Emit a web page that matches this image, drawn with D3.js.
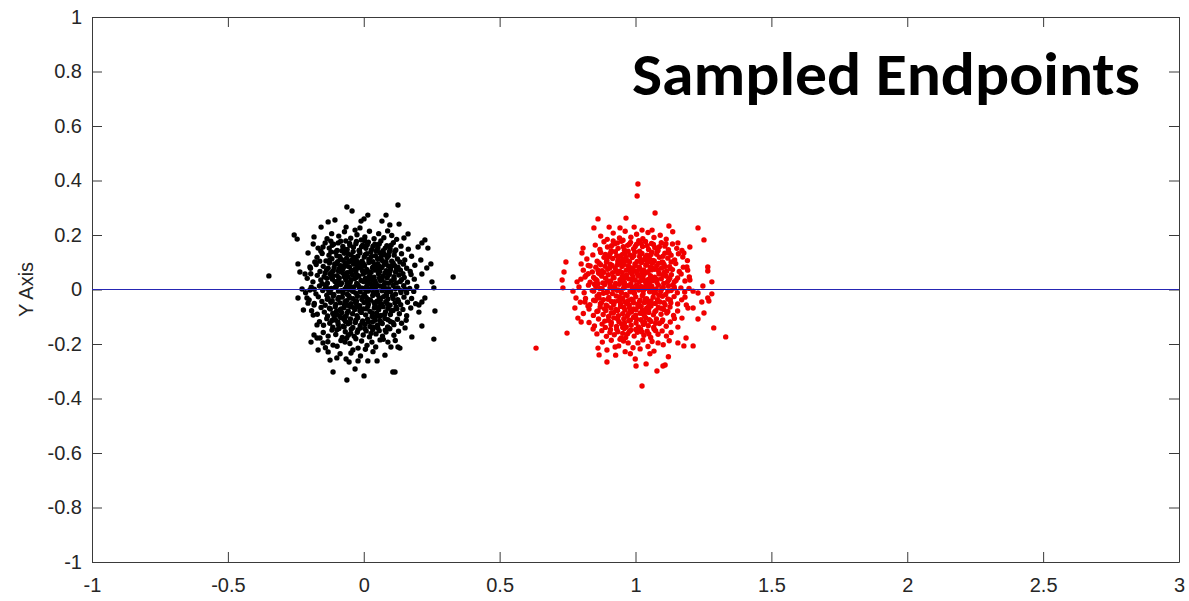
<!DOCTYPE html>
<html>
<head>
<meta charset="utf-8">
<script src="https://cdn.jsdelivr.net/npm/d3@7"></script>
<style>
	html, body { margin: 0; padding: 0; background: #fff; }
	svg { display: block; }
</style>
</head>
<body>
<div id="plot"></div>
<script>
	'use strict';

	var xTicks = [-1, -0.5, 0, 0.5, 1, 1.5, 2, 2.5, 3];
	var yTicks = [-1, -0.8, -0.6, -0.4, -0.2, 0, 0.2, 0.4, 0.6, 0.8, 1];
	var xDomain = [-1, 3];
	var yDomain = [-1, 1];
	var titleText = 'Sampled Endpoints';
	var yLabel = 'Y Axis';

	// reference line y = 0
	var zeroLine = [[-1, 0], [3, 0]];

	// endpoints sampled around the start (0, 0)
	var startPoints = [
		[-.349,.050],[-.256,.200],[-.245,.185],[-.157,.229],[-.183,.193],[-.186,.167],[-.205,.134],[-.242,.094],[-.235,.064],[-.216,.057],[-.198,.083],[-.180,.101],[-.242,-.031],[-.209,-.031],[-.198,-.002],[-.227,.002],[-.205,-.050],[-.222,-.075],[-.183,-.057],[-.186,-.094],[-.172,-.130],[-.183,-.167],[-.194,-.193],[-.172,-.178],[-.161,-.178],[-.168,-.222],[-.150,-.196],[-.150,.156],[-.168,.152],
		[-.062,.303],[-.043,.288],[-.131,.248],[-.106,.255],[.015,.273],[.001,.259],[-.010,.251],[.082,.273],[.067,.251],[.096,.237],[-.065,.229],[-.032,.218],[-.014,.226],
		[-.124,-.259],[-.099,-.251],[-.065,-.255],[-.054,-.266],[-.021,-.262],[.015,-.262],[.049,-.262],[-.113,-.303],[-.032,-.292],[-.062,-.332],[.001,-.317],[.107,-.303],
		[-.113,-.204],[-.069,-.193],[-.040,-.222],[-.021,-.215],[.030,-.193],[.060,-.185],[.089,-.193],[.100,-.211],
		[.126,.310],[.130,.240],[.163,.204],[.148,.189],[.225,.182],[.214,.171],[.200,.156],[.236,.152],[.210,.108],[.247,.094],[.232,.079],[.214,.057],[.329,.046],[.251,.028],[.258,.006],[.225,-.031],[.214,-.046],[.203,-.057],[.262,-.079],[.203,-.083],[.214,-.134],[.177,-.174],[.258,-.182],[.152,-.141],[.126,-.211],[.133,-.215],[.115,-.303],
		[-.118,.205],[-.092,.196],[-.071,.212],[-.048,.188],[-.025,.201],[.004,.193],[.021,.214],[.038,.186],[.055,.205],[.074,.190],[.103,.198],[.121,.184],[-.135,.186],[-.009,.182],[.088,.215],
		[-.142,.171],[-.127,.152],[-.111,.166],[-.098,.143],[-.085,.177],[-.077,.158],[-.061,.147],[-.052,.169],[-.038,.155],[-.027,.176],[-.016,.144],[-.004,.163],[.008,.151],[.017,.174],[.029,.146],[.041,.166],[.052,.153],[.063,.178],[.071,.142],[.085,.161],[.097,.149],[.109,.172],[.118,.145],[.137,.159],[.164,.148],[-.158,.141],[-.066,.178],[.003,.179],[.046,.141],[-.121,.177],
		[-.172,.118],[-.153,.132],[-.139,.105],[-.128,.126],[-.117,.113],[-.104,.137],[-.096,.102],[-.088,.121],[-.079,.108],[-.071,.133],[-.063,.115],[-.055,.101],[-.047,.127],[-.039,.139],[-.031,.108],[-.022,.122],[-.014,.134],[-.006,.104],[.002,.119],[.011,.131],[.019,.111],[.026,.138],[.034,.102],[.043,.124],[.051,.113],[.059,.135],[.068,.106],[.077,.128],[.086,.117],[.094,.138],[.103,.104],[.112,.126],[.124,.112],[.139,.131],[.151,.108],[.176,.122],[-.162,.104],[.133,.101],[-.049,.104],[.064,.121],
		[-.196,.078],[-.175,.092],[-.161,.066],[-.149,.085],[-.137,.072],[-.126,.097],[-.118,.063],[-.109,.081],[-.101,.094],[-.093,.068],[-.085,.087],[-.077,.074],[-.069,.098],[-.061,.062],[-.053,.083],[-.045,.071],[-.037,.093],[-.029,.065],[-.021,.079],[-.013,.096],[-.005,.069],[.003,.088],[.011,.074],[.019,.099],[.027,.063],[.035,.084],[.043,.071],[.051,.095],[.059,.066],[.067,.081],[.075,.092],[.083,.069],[.091,.086],[.099,.075],[.108,.097],[.117,.064],[.126,.082],[.135,.071],[.146,.093],[.158,.078],[.171,.066],[.188,.089],[-.142,.061],[-.083,.064],[.007,.063],[.052,.078],[.113,.088],[-.025,.091],
		[-.208,.041],[-.187,.028],[-.171,.052],[-.158,.035],[-.146,.047],[-.134,.023],[-.124,.056],[-.115,.038],[-.106,.029],[-.098,.051],[-.090,.042],[-.082,.024],[-.074,.058],[-.066,.036],[-.058,.047],[-.050,.027],[-.042,.054],[-.034,.039],[-.026,.022],[-.018,.049],[-.010,.033],[-.002,.057],[.006,.041],[.014,.026],[.022,.052],[.030,.037],[.038,.045],[.046,.021],[.054,.058],[.062,.033],[.070,.049],[.078,.025],[.086,.043],[.094,.056],[.102,.031],[.111,.047],[.120,.024],[.129,.053],[.139,.036],[.149,.044],[.161,.027],[.174,.055],[.186,.038],[-.195,.058],[-.153,.021],[-.061,.023],[.017,.034],[.091,.023],[.144,.058],[-.118,.043],[-.028,.044],[.058,.042],
		[-.214,-.012],[-.193,.008],[-.176,-.016],[-.163,.013],[-.151,-.004],[-.139,.017],[-.128,-.009],[-.119,.004],[-.110,-.018],[-.101,.011],[-.093,-.006],[-.085,.018],[-.077,-.013],[-.069,.002],[-.061,-.017],[-.053,.014],[-.045,-.003],[-.037,.009],[-.029,-.014],[-.021,.016],[-.013,-.008],[-.005,.005],[.003,-.016],[.011,.012],[.019,-.002],[.027,.019],[.035,-.011],[.043,.007],[.051,-.019],[.059,.013],[.067,-.005],[.075,.017],[.083,-.014],[.091,.003],[.099,-.008],[.108,.015],[.117,-.017],[.126,.006],[.136,-.004],[.147,.014],[.158,-.012],[.169,.004],[.184,-.007],[.195,.011],[-.182,.001],[-.132,.003],[-.057,.001],[.015,-.006],[.078,.004],[.152,.001],[-.097,.019],[.039,.018],
		[-.201,-.038],[-.182,-.051],[-.167,-.027],[-.154,-.044],[-.142,-.058],[-.131,-.033],[-.121,-.047],[-.112,-.024],[-.103,-.055],[-.095,-.036],[-.087,-.049],[-.079,-.028],[-.071,-.057],[-.063,-.041],[-.055,-.023],[-.047,-.052],[-.039,-.034],[-.031,-.046],[-.023,-.025],[-.015,-.059],[-.007,-.037],[.001,-.048],[.009,-.029],[.017,-.054],[.025,-.039],[.033,-.022],[.041,-.057],[.049,-.043],[.057,-.031],[.065,-.053],[.073,-.026],[.081,-.045],[.089,-.035],[.097,-.058],[.106,-.024],[.115,-.049],[.125,-.037],[.136,-.056],[.148,-.028],[.161,-.047],[.176,-.033],[.191,-.052],[-.136,-.021],[-.061,-.058],[.012,-.043],[.084,-.021],[-.027,-.042],[.053,-.047],
		[-.192,-.078],[-.171,-.091],[-.157,-.066],[-.145,-.083],[-.133,-.097],[-.123,-.072],[-.114,-.088],[-.105,-.063],[-.097,-.094],[-.089,-.076],[-.081,-.085],[-.073,-.067],[-.065,-.098],[-.057,-.079],[-.049,-.062],[-.041,-.089],[-.033,-.073],[-.025,-.096],[-.017,-.065],[-.009,-.084],[-.001,-.071],[.007,-.093],[.015,-.062],[.023,-.081],[.031,-.099],[.039,-.068],[.047,-.087],[.055,-.074],[.063,-.095],[.071,-.063],[.080,-.082],[.089,-.069],[.098,-.092],[.108,-.077],[.119,-.064],[.131,-.089],[.144,-.073],[.158,-.096],[.173,-.068],[-.109,-.099],[-.023,-.061],[.052,-.097],
		[-.163,-.118],[-.148,-.131],[-.136,-.107],[-.125,-.124],[-.114,-.138],[-.104,-.112],[-.094,-.128],[-.085,-.103],[-.076,-.135],[-.067,-.117],[-.058,-.126],[-.049,-.108],[-.040,-.139],[-.031,-.121],[-.022,-.104],[-.013,-.132],[-.004,-.115],[.005,-.127],[.014,-.109],[.023,-.136],[.032,-.119],[.041,-.102],[.050,-.131],[.059,-.114],[.068,-.125],[.078,-.106],[.088,-.137],[.099,-.118],[.111,-.129],[.124,-.109],[.139,-.124],[.156,-.113],[-.071,-.102],[.036,-.139],
		[-.149,-.158],[-.131,-.171],[-.117,-.149],[-.103,-.165],[-.091,-.143],[-.079,-.176],[-.068,-.155],[-.057,-.168],[-.046,-.146],[-.035,-.172],[-.024,-.157],[-.013,-.141],[-.002,-.167],[.009,-.152],[.021,-.174],[.033,-.148],[.045,-.163],[.057,-.151],[.069,-.171],[.082,-.156],[.096,-.144],[.111,-.168],[.128,-.153],[-.063,-.179],
		[-.132,-.192],[-.098,-.208],[-.084,-.187],[-.051,-.198],[-.008,-.189],[.012,-.205],[.044,-.211],[.072,-.183],[.116,-.187],[-.141,-.214],[.006,-.219],[-.029,-.181],
		[-.087,-.236],[-.012,-.244],[.034,-.228],[-.131,-.229],[.078,-.241],[-.047,-.233],
		[-.116,.162],[-.094,.171],[-.073,.149],[-.051,.162],[-.029,.168],[-.008,.157],[.013,.164],[.034,.159],[.057,.167],[.079,.152],[.101,.163],
		[-.121,.138],[-.099,.124],[-.081,.142],[-.058,.131],[-.036,.118],[-.017,.142],[.006,.128],[.028,.121],[.049,.146],[.072,.134],[.091,.124],[.114,.139],
		[-.125,.108],[-.107,.094],[-.086,.112],[-.064,.087],[-.043,.109],[-.024,.103],[-.002,.096],[.021,.107],[.041,.089],[.063,.111],[.082,.101],[.104,.087],
		[-.131,.078],[-.112,.069],[-.091,.076],[-.072,.084],[-.049,.064],[-.031,.075],[-.009,.082],[.014,.067],[.032,.079],[.055,.087],[.078,.061],[.097,.068],[.121,.075],
		[-.136,.041],[-.113,.051],[-.094,.033],[-.071,.046],[-.047,.036],[-.023,.052],[-.001,.029],[.019,.046],[.042,.031],[.067,.038],[.089,.051],[.112,.039],[.134,.029],
		[-.141,.006],[-.123,-.011],[-.104,.008],[-.082,-.004],[-.063,.011],[-.039,-.007],[-.017,.009],[.007,-.001],[.029,.006],[.048,-.009],[.071,.009],[.093,-.002],[.116,.003],[.137,-.011],
		[-.134,-.036],[-.116,-.041],[-.092,-.029],[-.069,-.045],[-.051,-.031],[-.028,-.051],[-.004,-.026],[.019,-.037],[.038,-.048],[.061,-.038],[.086,-.051],[.108,-.033],[.128,-.045],
		[-.126,-.069],[-.101,-.081],[-.084,-.071],[-.061,-.086],[-.037,-.067],[-.014,-.078],[.009,-.071],[.031,-.086],[.056,-.065],[.077,-.091],[.101,-.078],[.122,-.071],
		[-.117,-.114],[-.095,-.119],[-.073,-.109],[-.051,-.122],[-.029,-.113],[-.006,-.121],[.017,-.118],[.041,-.113],[.064,-.121],[.089,-.111],[.108,-.122],
		[-.099,-.148],[-.072,-.138],[-.048,-.161],[-.021,-.148],[.004,-.143],[.027,-.161],[.052,-.141],[.079,-.149]
	];

	// endpoints sampled around the goal (1, 0)
	var endPoints = [
		[.634,-.215],[.748,-.160],[.744,.101],[.737,.064],[.730,.035],[.733,.006],[.770,-.006],[.781,-.031],[.777,-.068],[.788,-.105],[.800,-.119],[.847,.226],[.807,.152],[.800,.094],[.785,.028],[.814,-.046],[.825,-.061],[.844,-.145],[.803,.134],[.833,.086],[.814,.046],
		[1.009,.387],[1.006,.343],[1.072,.281],[.862,.259],[.965,.262],[.903,.229],[.943,.226],[.995,.229],[1.024,.218],[1.061,.218],
		[.862,-.215],[.895,-.222],[.866,-.240],[.895,-.266],[.999,-.255],[1.002,-.281],[1.039,-.273],[1.079,-.299],[1.101,-.281],[1.024,-.354],[.973,-.196],[1.009,-.196],[1.083,-.196],[.925,-.211],
		[1.123,.233],[1.230,.226],[1.252,.182],[1.156,.171],[1.200,.156],[1.266,.083],[1.266,.068],[1.281,.028],[1.248,.013],[1.266,-.031],[1.270,-.042],[1.244,-.046],[1.281,-.016],[1.252,-.086],[1.230,-.108],[1.288,-.141],[1.332,-.174],[1.212,-.068],[1.186,-.178],[1.212,-.207],[1.178,-.207],[1.156,-.196],[1.109,-.277],[1.189,.083],[1.178,.134],[1.200,.035],[1.212,-.006],[1.230,-.013],[1.182,-.028],[1.193,-.068],[1.171,-.105],[1.156,-.138],
		[.872,.196],[.896,.184],[.918,.207],[.941,.189],[.962,.214],[.983,.192],[1.004,.203],[1.027,.186],[1.046,.209],[1.068,.191],[1.091,.199],[1.113,.185],[1.137,.212],[.954,.181],
		[.852,.163],[.869,.147],[.884,.175],[.897,.156],[.911,.142],[.924,.168],[.936,.151],[.948,.177],[.959,.145],[.971,.162],[.982,.173],[.993,.149],[1.004,.166],[1.015,.141],[1.026,.158],[1.037,.176],[1.048,.147],[1.059,.169],[1.071,.154],[1.083,.143],[1.095,.172],[1.108,.159],[1.121,.146],[1.136,.167],[1.152,.151],[1.171,.143],[.918,.178],[1.012,.179],
		[.821,.112],[.843,.127],[.859,.104],[.872,.136],[.884,.118],[.895,.107],[.906,.131],[.916,.114],[.926,.139],[.935,.102],[.944,.123],[.953,.111],[.962,.134],[.971,.106],[.979,.127],[.988,.117],[.997,.138],[1.006,.103],[1.015,.121],[1.024,.132],[1.033,.109],[1.042,.126],[1.051,.114],[1.060,.137],[1.069,.105],[1.078,.129],[1.088,.118],[1.098,.101],[1.108,.133],[1.119,.115],[1.131,.126],[1.144,.108],[1.158,.131],[1.174,.119],[1.191,.106],[.965,.118],[1.047,.102],[.901,.121],
		[.808,.071],[.826,.088],[.841,.064],[.854,.082],[.866,.097],[.877,.069],[.888,.085],[.898,.074],[.907,.093],[.916,.062],[.925,.079],[.934,.091],[.942,.067],[.950,.084],[.958,.098],[.966,.071],[.974,.087],[.982,.063],[.990,.078],[.998,.094],[1.006,.068],[1.014,.083],[1.022,.099],[1.030,.072],[1.038,.089],[1.046,.065],[1.054,.081],[1.062,.096],[1.070,.074],[1.078,.087],[1.087,.061],[1.096,.079],[1.105,.092],[1.115,.067],[1.125,.084],[1.136,.073],[1.148,.095],[1.161,.066],[1.176,.082],[1.192,.071],[.864,.061],[.945,.099],[1.025,.061],[1.101,.099],[.979,.081],[1.058,.072],
		[.799,.038],[.818,.052],[.833,.027],[.846,.044],[.858,.033],[.869,.057],[.880,.024],[.890,.041],[.900,.054],[.909,.031],[.918,.046],[.927,.022],[.935,.059],[.943,.036],[.951,.048],[.959,.026],[.967,.053],[.975,.039],[.983,.021],[.991,.047],[.999,.034],[1.007,.058],[1.015,.029],[1.023,.043],[1.031,.055],[1.039,.023],[1.047,.037],[1.055,.051],[1.063,.032],[1.071,.045],[1.079,.026],[1.087,.057],[1.095,.039],[1.104,.022],[1.113,.049],[1.122,.035],[1.132,.054],[1.143,.028],[1.155,.042],[1.168,.057],[1.182,.031],[1.198,.046],[.826,.058],[.906,.021],[.987,.057],[1.051,.024],[1.118,.028],[.862,.021],[.955,.041],[1.028,.041],
		[.792,.009],[.811,-.012],[.827,.016],[.841,-.004],[.854,.011],[.866,-.017],[.877,.003],[.887,.018],[.897,-.009],[.906,.007],[.915,-.015],[.924,.013],[.932,-.003],[.940,.019],[.948,-.011],[.956,.005],[.964,-.018],[.972,.014],[.980,-.006],[.988,.009],[.996,-.014],[1.004,.017],[1.012,-.002],[1.020,.011],[1.028,-.016],[1.036,.004],[1.044,.019],[1.052,-.008],[1.060,.012],[1.068,-.013],[1.076,.002],[1.084,.016],[1.093,-.007],[1.102,.008],[1.111,-.018],[1.121,.013],[1.131,-.004],[1.142,.010],[1.154,-.012],[1.167,.006],[1.181,-.009],[1.197,.004],[.849,.019],[.918,.001],[.993,.001],[1.064,.001],[1.137,.017],[.882,-.014],[.959,.016],[1.031,.009],
		[.797,-.047],[.816,-.033],[.832,-.056],[.846,-.039],[.859,-.025],[.871,-.052],[.882,-.037],[.892,-.058],[.902,-.029],[.911,-.044],[.920,-.055],[.929,-.024],[.937,-.041],[.945,-.053],[.953,-.031],[.961,-.046],[.969,-.022],[.977,-.057],[.985,-.036],[.993,-.049],[1.001,-.027],[1.009,-.054],[1.017,-.039],[1.025,-.023],[1.033,-.048],[1.041,-.034],[1.049,-.059],[1.057,-.042],[1.065,-.028],[1.073,-.051],[1.081,-.037],[1.090,-.046],[1.099,-.025],[1.109,-.057],[1.119,-.035],[1.130,-.049],[1.142,-.026],[1.155,-.053],[1.170,-.038],[1.187,-.057],[.866,-.031],[.941,-.027],[1.013,-.058],[1.086,-.021],[.973,-.041],[1.047,-.045],
		[.808,-.088],[.829,-.072],[.845,-.095],[.858,-.081],[.870,-.064],[.881,-.092],[.891,-.077],[.901,-.099],[.910,-.068],[.919,-.085],[.928,-.073],[.937,-.096],[.945,-.062],[.953,-.089],[.961,-.075],[.969,-.098],[.977,-.066],[.985,-.083],[.993,-.071],[1.001,-.094],[1.009,-.063],[1.017,-.087],[1.025,-.076],[1.033,-.097],[1.041,-.069],[1.049,-.084],[1.057,-.061],[1.066,-.093],[1.075,-.078],[1.084,-.066],[1.094,-.091],[1.104,-.073],[1.115,-.086],[1.127,-.064],[1.140,-.095],[1.155,-.079],[.896,-.061],[.973,-.091],[1.038,-.082],[1.021,-.062],
		[.829,-.121],[.849,-.134],[.864,-.108],[.877,-.127],[.889,-.139],[.900,-.113],[.910,-.129],[.920,-.104],[.930,-.136],[.939,-.118],[.948,-.126],[.957,-.107],[.966,-.138],[.975,-.115],[.984,-.131],[.993,-.102],[1.002,-.123],[1.011,-.137],[1.020,-.111],[1.029,-.128],[1.038,-.104],[1.047,-.133],[1.057,-.117],[1.067,-.139],[1.077,-.108],[1.088,-.125],[1.100,-.112],[1.113,-.135],[1.128,-.119],[1.143,-.106],[.953,-.139],[1.034,-.121],
		[.858,-.163],[.876,-.151],[.893,-.172],[.908,-.147],[.922,-.166],[.935,-.155],[.947,-.178],[.959,-.143],[.971,-.162],[.983,-.149],[.995,-.171],[1.007,-.157],[1.019,-.145],[1.031,-.168],[1.043,-.153],[1.056,-.176],[1.069,-.146],[1.083,-.164],[1.098,-.152],[1.114,-.171],[1.131,-.158],[.964,-.176],
		[.878,-.193],[.911,-.186],[.938,-.207],[.956,-.189],[.991,-.214],[1.027,-.185],[1.046,-.209],[1.061,-.191],[1.102,-.203],[1.124,-.188],[.943,-.183],[1.017,-.218],
		[.927,-.241],[.962,-.228],[1.053,-.236],[1.121,-.247],[.981,-.236],[1.068,-.226],
		[.912,.161],[.933,.171],[.955,.157],[.977,.166],[.999,.158],[1.021,.169],[1.043,.161],[1.066,.165],[1.088,.157],[1.112,.168],
		[.889,.129],[.911,.138],[.931,.124],[.952,.129],[.973,.141],[.994,.124],[1.016,.134],[1.037,.119],[1.057,.128],[1.079,.139],[1.101,.122],[1.124,.134],
		[.872,.091],[.893,.101],[.914,.088],[.936,.108],[.957,.091],[.978,.102],[.999,.087],[1.021,.109],[1.042,.094],[1.064,.107],[1.085,.096],[1.109,.084],[1.131,.101],
		[.862,.071],[.884,.063],[.905,.079],[.929,.069],[.951,.062],[.972,.073],[.994,.067],[1.017,.074],[1.039,.062],[1.061,.079],[1.083,.071],[1.107,.064],[1.129,.077],
		[.853,.038],[.876,.049],[.897,.031],[.921,.043],[.944,.027],[.966,.044],[.988,.036],[1.011,.049],[1.033,.031],[1.057,.043],[1.079,.037],[1.101,.052],[1.126,.041],[1.149,.033],
		[.846,-.006],[.869,.004],[.893,-.011],[.916,.008],[.938,-.002],[.961,.011],[.983,-.008],[1.006,.006],[1.029,-.004],[1.051,.009],[1.073,-.011],[1.097,.003],[1.119,-.006],[1.143,.005],
		[.852,-.041],[.875,-.048],[.899,-.036],[.923,-.045],[.946,-.038],[.968,-.051],[.991,-.039],[1.014,-.046],[1.036,-.036],[1.059,-.052],[1.082,-.041],[1.105,-.048],[1.128,-.038],
		[.862,-.079],[.886,-.071],[.911,-.086],[.934,-.077],[.957,-.066],[.979,-.082],[1.002,-.074],[1.026,-.088],[1.049,-.071],[1.071,-.082],[1.094,-.069],[1.119,-.081],
		[.887,-.116],[.911,-.121],[.934,-.108],[.959,-.124],[.981,-.113],[1.004,-.109],[1.027,-.119],[1.051,-.111],[1.074,-.124],[1.097,-.118],
		[.906,-.158],[.931,-.146],[.953,-.161],[.978,-.153],[1.001,-.147],[1.024,-.156],[1.049,-.163],[1.074,-.151]
	];

	var width = 1189,
		height = 601;
	var margin = {top: 17, right: 10, bottom: 39, left: 92};
	var axisColor = '#3a3a3a',
		textColor = '#262626';
	var dotRadius = 2.7;

	var svg = d3.select('#plot')
		.append('svg')
		.attr('width', width)
		.attr('height', height);

	var x = d3.scaleLinear()
		.domain(xDomain)
		.range([margin.left, width - margin.right]);
	var y = d3.scaleLinear()
		.domain(yDomain)
		.range([height - margin.bottom, margin.top]);

	function styleAxis(g) {
		g.select('.domain').attr('stroke', axisColor).attr('stroke-width', 1);
		g.selectAll('.tick line').attr('stroke', axisColor).attr('stroke-width', 1);
		g.selectAll('.tick text')
			.attr('fill', textColor)
			.style('font-family', '"Liberation Sans", Arial, Helvetica, sans-serif')
			.style('font-size', '20px');
	}

	// bottom / left axes carry labels, top / right only ticks (box on)
	svg.append('g')
		.attr('transform', 'translate(0,' + (height - margin.bottom) + ')')
		.call(d3.axisBottom(x).tickValues(xTicks).tickFormat(String)
			.tickSizeInner(-10).tickSizeOuter(0).tickPadding(16))
		.call(styleAxis);
	svg.append('g')
		.attr('transform', 'translate(' + margin.left + ',0)')
		.call(d3.axisLeft(y).tickValues(yTicks).tickFormat(String)
			.tickSizeInner(-10).tickSizeOuter(0).tickPadding(10))
		.call(styleAxis);
	svg.append('g')
		.attr('transform', 'translate(0,' + margin.top + ')')
		.call(d3.axisTop(x).tickValues(xTicks).tickFormat('')
			.tickSizeInner(-10).tickSizeOuter(0))
		.call(styleAxis);
	svg.append('g')
		.attr('transform', 'translate(' + (width - margin.right) + ',0)')
		.call(d3.axisRight(y).tickValues(yTicks).tickFormat('')
			.tickSizeInner(-10).tickSizeOuter(0))
		.call(styleAxis);

	var plot = svg.append('g');

	plot.selectAll('circle.start')
		.data(startPoints)
		.enter()
		.append('circle')
		.attr('class', 'start')
		.attr('cx', function (d) { return x(d[0]); })
		.attr('cy', function (d) { return y(d[1]); })
		.attr('r', dotRadius)
		.attr('fill', '#000');

	plot.selectAll('circle.end')
		.data(endPoints)
		.enter()
		.append('circle')
		.attr('class', 'end')
		.attr('cx', function (d) { return x(d[0]); })
		.attr('cy', function (d) { return y(d[1]); })
		.attr('r', dotRadius)
		.attr('fill', '#f00000');

	var line = d3.line()
		.x(function (d) { return x(d[0]); })
		.y(function (d) { return y(d[1]); });

	plot.append('path')
		.datum(zeroLine)
		.attr('fill', 'none')
		.attr('stroke', '#2626b4')
		.attr('stroke-width', 1.2)
		.attr('d', line);

	// y label
	svg.append('text')
		.attr('transform', 'translate(33,' + y(0) + ') rotate(-90)')
		.attr('text-anchor', 'middle')
		.attr('fill', textColor)
		.style('font-family', '"Liberation Sans", Arial, Helvetica, sans-serif')
		.style('font-size', '20px')
		.text(yLabel);

	// title sits inside the axes, top right
	svg.append('text')
		.attr('x', 632)
		.attr('y', 95)
		.attr('textLength', 508)
		.attr('lengthAdjust', 'spacingAndGlyphs')
		.attr('fill', '#000')
		.style('font-family', 'Carlito, Calibri, Lato, "Open Sans", sans-serif')
		.style('font-weight', 700)
		.style('font-size', '60px')
		.text(titleText);
</script>
</body>
</html>
